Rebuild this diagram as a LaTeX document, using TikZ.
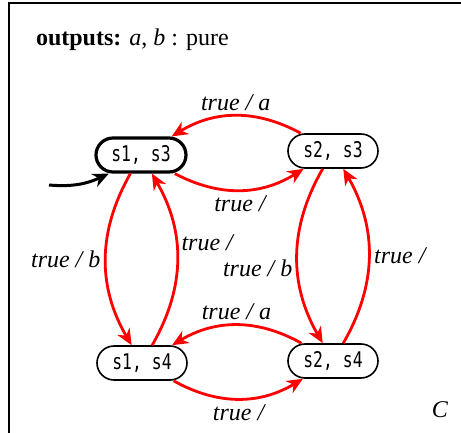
\documentclass[tikz,border=0pt]{standalone}
\usepackage{fontspec}
\setmainfont{Liberation Serif}
\newfontfamily\statefont[FakeStretch=0.76]{DejaVu Sans Mono}
\usetikzlibrary{positioning,arrows.meta}

\begin{document}
\begin{tikzpicture}[
  x=0.5pt, y=-0.5pt,
  state/.style={draw, line width=0.8pt, rounded corners=8.5pt, minimum width=45pt, minimum height=17pt,
    inner sep=0pt, font=\fontsize{10.8}{12}\statefont},
  initstate/.style={state, line width=1.6pt},
  trans/.style={-{Stealth[length=8pt, width=7pt, inset=2.5pt]}, red, line width=1.4pt},
  initarr/.style={-{Stealth[length=8pt, width=7pt, inset=2.5pt]}, black, line width=1.5pt},
  lbl/.style={font=\fontsize{12}{14}\selectfont\itshape, text=black, inner sep=2pt}
]
\useasboundingbox (0,0) rectangle (461,433);
% frame
\draw[line width=1pt] (9,433) -- (9,3) -- (461,3);
\node[anchor=west, font=\fontsize{12}{14}\selectfont] (decl) at (29,40)
  {\textbf{outputs:} \textit{a}, \textit{b} : pure};

% states
\node[initstate] (s13) at (141,155) {s1, s3};
\node[state] (s23) at (333,151) {s2, s3};
\node[state] (s14) at (142,363) {s1, s4};
\node[state] (s24) at (333,361) {s2, s4};
\coordinate (init) at (49,185);

% transitions
\draw[initarr] (init) to[out=-5, in=205] (s13.210);
\draw[trans] (s23) to[bend right=30] node[lbl, above] {true / a} (s13);
\draw[trans] (s13) to[bend right=30] node[lbl, below] {true /} (s23);
\draw[trans] (s13) to[bend right=30] node[lbl, left] {true / b} (s14);
\draw[trans] (s14) to[bend right=30] node[lbl, pos=0.6, right] {true /} (s13);
\draw[trans] (s23) to[bend right=30] node[lbl, pos=0.57, left] {true / b} (s24);
\draw[trans] (s24) to[bend right=30] node[lbl, right] {true /} (s23);
\draw[trans] (s24) to[bend right=30] node[lbl, above] {true / a} (s14);
\draw[trans] (s14) to[bend right=30] node[lbl, below] {true /} (s24);

\node[lbl] (comp) at (440,410) {C};
\end{tikzpicture}
\end{document}
